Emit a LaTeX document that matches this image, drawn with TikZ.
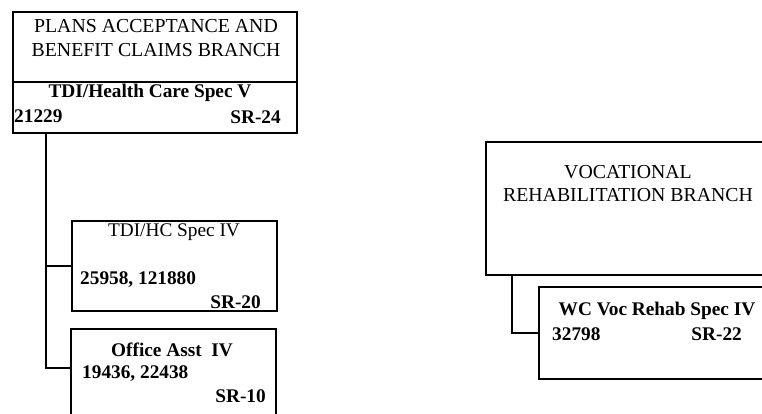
\documentclass[tikz,border=0pt]{standalone}
\usepackage{fontspec}
\setmainfont{Liberation Serif}
\usetikzlibrary{positioning}
\tikzset{
  unitbox/.style={draw,line width=1.3pt,inner sep=0pt,outer sep=0pt,anchor=north west},
  boxtitle/.style={font=\fontsize{19.8}{24}\selectfont,align=center,inner sep=0pt},
  boxtext/.style={font=\fontsize{19.3}{22}\selectfont\bfseries,inner sep=0pt},
  link/.style={line width=1.3pt},
}

\begin{document}
\begin{tikzpicture}[x=1pt,y=-1pt]
  \useasboundingbox (0,0) rectangle (762,413);
  \clip (0,0) rectangle (762,413);

  % plans acceptance branch
  \node[unitbox,minimum width=284pt,minimum height=70pt] (pab) at (13,12) {};
  \node[unitbox,minimum width=284pt,minimum height=51pt] (pabHead) at (13,82) {};
  \node[boxtitle] (pabTitle) at (156,38) {PLANS ACCEPTANCE AND\\BENEFIT CLAIMS BRANCH};
  \node[boxtext,anchor=base] (pabPos) at (150,97) {TDI/Health Care Spec V};
  \node[boxtext,anchor=base west] (pabNum) at (14,122) {21229};
  \node[boxtext,anchor=base east] (pabSr) at (281,123) {SR-24};

  \node[unitbox,minimum width=205pt,minimum height=90pt] (hc4) at (72,221) {};
  \node[boxtext,font=\fontsize{19.3}{22}\selectfont,anchor=base] (hc4Pos) at (174,236) {TDI/HC Spec IV};
  \node[boxtext,anchor=base west] (hc4Num) at (80,284) {25958, 121880};
  \node[boxtext,anchor=base east] (hc4Sr) at (261,308) {SR-20};

  \node[unitbox,minimum width=205pt,minimum height=100pt] (office) at (71,329) {};
  \node[boxtext,anchor=base] (officePos) at (172,356) {Office Asst\ \ IV};
  \node[boxtext,anchor=base west] (officeNum) at (82,378) {19436, 22438};
  \node[boxtext,anchor=base east] (officeSr) at (266,402) {SR-10};

  \coordinate (pabTap) at (46,133);
  \coordinate (officeIn) at (71,368);
  \draw[link] (pabTap) |- (officeIn);
  \draw[link] (pabTap |- hc4.west) -- (hc4.west);

  % vocational rehabilitation branch
  \node[unitbox,minimum width=290pt,minimum height=133pt] (voc) at (486,142) {};
  \node[boxtitle,font=\fontsize{19.8}{23}\selectfont] (vocTitle) at (628,184) {VOCATIONAL\\REHABILITATION BRANCH};

  \node[unitbox,minimum width=240pt,minimum height=92pt] (wc) at (539,287) {};
  \node[boxtext,anchor=base] (wcPos) at (657,315) {WC Voc Rehab Spec IV};
  \node[boxtext,anchor=base west] (wcNum) at (552,340) {32798};
  \node[boxtext,anchor=base east] (wcSr) at (742,340) {SR-22};

  \coordinate (vocTap) at (512,275);
  \draw[link] (vocTap) |- (wc.west);
\end{tikzpicture}
\end{document}
